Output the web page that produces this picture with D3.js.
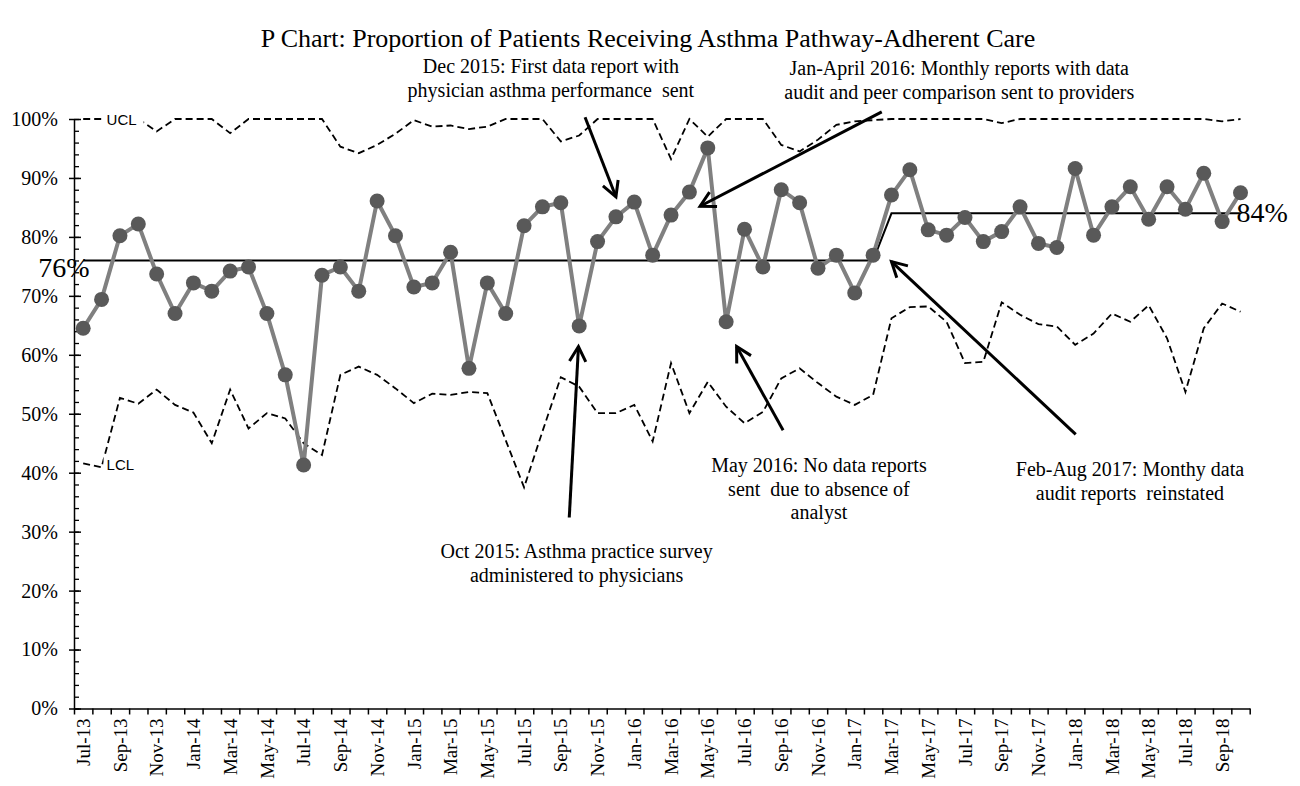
<!DOCTYPE html>
<html>
<head>
<meta charset="utf-8">
<script src="https://cdn.jsdelivr.net/npm/d3@7"></script>
<style>
  body { margin: 0; background: #fff; }
  svg text { white-space: pre; }
</style>
</head>
<body>
<div id="chart"></div>
<script>
// ---- data ----
const months = [
  "Jul-13","Aug-13","Sep-13","Oct-13","Nov-13","Dec-13",
  "Jan-14","Feb-14","Mar-14","Apr-14","May-14","Jun-14","Jul-14","Aug-14","Sep-14","Oct-14","Nov-14","Dec-14",
  "Jan-15","Feb-15","Mar-15","Apr-15","May-15","Jun-15","Jul-15","Aug-15","Sep-15","Oct-15","Nov-15","Dec-15",
  "Jan-16","Feb-16","Mar-16","Apr-16","May-16","Jun-16","Jul-16","Aug-16","Sep-16","Oct-16","Nov-16","Dec-16",
  "Jan-17","Feb-17","Mar-17","Apr-17","May-17","Jun-17","Jul-17","Aug-17","Sep-17","Oct-17","Nov-17","Dec-17",
  "Jan-18","Feb-18","Mar-18","Apr-18","May-18","Jun-18","Jul-18","Aug-18","Sep-18","Oct-18"
];

// proportion adherent (%)
const proportion = [
  64.5, 69.4, 80.2, 82.2, 73.7, 67.0,
  72.2, 70.8, 74.2, 74.9, 67.0, 56.6, 41.3, 73.5, 74.9, 70.8, 86.1, 80.2,
  71.5, 72.2, 77.4, 57.7, 72.2, 67.0, 81.9, 85.1, 85.8, 64.9, 79.2, 83.4,
  85.9, 76.9, 83.7, 87.6, 95.1, 65.6, 81.3, 74.9, 88.0, 85.8, 74.7, 76.9,
  70.5, 76.9, 87.1, 91.4, 81.2, 80.3, 83.3, 79.2, 80.9, 85.1, 78.9, 78.2,
  91.6, 80.3, 85.1, 88.5, 83.0, 88.5, 84.7, 90.8, 82.6, 87.5
];

const ucl = [
  100, 100, 100, 100, 97.9, 100,
  100, 100, 97.6, 100, 100, 100, 100, 100, 95.3, 94.2, 95.6, 97.5,
  99.8, 98.7, 98.9, 98.3, 98.7, 100, 100, 100, 96.2, 97.2, 100, 100,
  100, 100, 93.2, 100, 97.0, 100, 100, 100, 95.6, 94.5, 96.5, 99.0,
  99.6, 99.8, 100, 100, 100, 100, 100, 100, 99.3, 100, 100, 100,
  100, 100, 100, 100, 100, 100, 100, 100, 99.6, 100
];

const lcl = [
  41.6, 40.9, 52.7, 51.7, 54.1, 51.5,
  50.2, 45.0, 54.1, 47.5, 50.1, 49.2, 45.0, 43.0, 56.6, 58.0, 56.6, 54.3,
  51.8, 53.4, 53.2, 53.7, 53.5, 45.5, 37.5, 47.0, 56.2, 54.6, 50.1, 50.1,
  51.5, 45.3, 58.6, 50.1, 55.4, 51.2, 48.4, 50.3, 56.0, 57.7, 55.2, 52.9,
  51.5, 53.2, 66.2, 68.1, 68.2, 65.6, 58.6, 58.8, 68.9, 66.8, 65.2, 64.8,
  61.7, 63.6, 67.0, 65.6, 68.4, 62.8, 53.7, 64.5, 68.7, 67.3
];

// centre line: 76% through Feb-17, 84% from Mar-17
const centerLine = [
  76, 76, 76, 76, 76, 76,
  76, 76, 76, 76, 76, 76, 76, 76, 76, 76, 76, 76,
  76, 76, 76, 76, 76, 76, 76, 76, 76, 76, 76, 76,
  76, 76, 76, 76, 76, 76, 76, 76, 76, 76, 76, 76,
  76, 76, 84, 84, 84, 84, 84, 84, 84, 84, 84, 84,
  84, 84, 84, 84, 84, 84, 84, 84, 84, 84
];

const yTicks = [0, 10, 20, 30, 40, 50, 60, 70, 80, 90, 100];

// annotation arrows: [month index, percent]
const arrows = [
  { from: [27.32, 100.3], to: [29.0, 86.8] },
  { from: [43.47, 101.2], to: [33.58, 85.2] },
  { from: [26.46, 32.4], to: [26.96, 61.4] },
  { from: [38.1, 47.2], to: [35.57, 61.4] },
  { from: [54.03, 46.5], to: [44.0, 75.8] }
];

// annotation texts: centre month index, percent of first baseline
const notes = [
  { at: [25.46, 107.8], lines: ["Dec 2015: First data report with", "physician asthma performance  sent"] },
  { at: [47.69, 107.4], lines: ["Jan-April 2016: Monthly reports with data", "audit and peer comparison sent to providers"] },
  { at: [26.86, 25.5], lines: ["Oct 2015: Asthma practice survey", "administered to physicians"] },
  { at: [40.05, 40.1], lines: ["May 2016: No data reports", "sent  due to absence of", "analyst"] },
  { at: [56.98, 39.4], lines: ["Feb-Aug 2017: Monthy data", "audit reports  reinstated"] }
];

// ---- drawing ----
const width = 1300, height = 786;
const plotLeft = 74, plotRight = 1249.7, plotTop = 119, plotBottom = 708.5;
const serif = "'Liberation Serif', 'Times New Roman', serif";
const sans = "'Liberation Sans', Arial, sans-serif";

const svg = d3.select("#chart").append("svg")
  .attr("width", width)
  .attr("height", height);

const x = d3.scaleBand().domain(months).range([plotLeft, plotRight]);
const cx = m => x(m) + x.bandwidth() / 2;
const xIdx = d3.scaleLinear().domain([0, months.length]).range([plotLeft, plotRight]);
const xAt = i => xIdx(i + 0.5);
const y = d3.scaleLinear().domain([0, 100]).range([plotBottom, plotTop]);

// title
svg.append("text")
  .attr("x", width / 2 - 2)
  .attr("y", 47)
  .attr("text-anchor", "middle")
  .attr("font-family", serif)
  .attr("font-size", 26)
  .text("P Chart: Proportion of Patients Receiving Asthma Pathway-Adherent Care");

// y axis: labels + outer part of major ticks
const yAxis = svg.append("g")
  .attr("transform", `translate(${plotLeft},0)`)
  .call(d3.axisLeft(y).tickValues(yTicks).tickFormat(d => d + "%").tickSize(5).tickSizeOuter(0).tickPadding(11));
yAxis.selectAll("text").attr("font-family", serif).attr("font-size", 20).attr("fill", "#000");
yAxis.selectAll("line").attr("stroke-width", 1.5);
yAxis.select(".domain").attr("stroke-width", 1.5);

// inner ticks (major longer, minor every 2%)
svg.append("g")
  .attr("transform", `translate(${plotLeft},0)`)
  .call(d3.axisRight(y).tickValues(d3.range(0, 101, 2)).tickFormat("").tickSize(5).tickSizeOuter(0))
  .call(g => g.select(".domain").remove())
  .selectAll("line").attr("stroke-width", 1.3);
svg.append("g")
  .attr("transform", `translate(${plotLeft},0)`)
  .call(d3.axisRight(y).tickValues(yTicks).tickFormat("").tickSize(7).tickSizeOuter(0))
  .call(g => g.select(".domain").remove())
  .selectAll("line").attr("stroke-width", 1.5);

// x axis: boundary ticks
const xTickAxis = svg.append("g")
  .attr("transform", `translate(0,${plotBottom})`)
  .call(d3.axisBottom(xIdx).tickValues(d3.range(0, months.length + 1)).tickFormat("").tickSize(6).tickSizeOuter(0));
xTickAxis.selectAll("line").attr("stroke-width", 1.5);
xTickAxis.select(".domain").attr("stroke-width", 1.5);

// x axis: labels every second month
const xLab = svg.append("g")
  .attr("transform", `translate(0,${plotBottom})`)
  .call(d3.axisBottom(x).tickValues(months.filter((m, i) => i % 2 === 0)).tickSize(0));
xLab.select(".domain").remove();
xLab.selectAll("text")
  .attr("font-family", serif)
  .attr("font-size", 19)
  .attr("fill", "#000")
  .attr("transform", "rotate(-90)")
  .attr("x", -10)
  .attr("y", 0)
  .attr("dy", "0.35em")
  .style("text-anchor", "end");

// control limits
const line = d3.line().x((d, i) => cx(months[i])).y(d => y(d));
[ucl, lcl].forEach(series => {
  svg.append("path")
    .datum(series)
    .attr("fill", "none")
    .attr("stroke", "#000")
    .attr("stroke-width", 1.8)
    .attr("stroke-dasharray", "7,4")
    .attr("d", line);
});

// centre line
svg.append("path")
  .datum(centerLine)
  .attr("fill", "none")
  .attr("stroke", "#000")
  .attr("stroke-width", 2)
  .attr("d", line);

// data series
svg.append("path")
  .datum(proportion)
  .attr("fill", "none")
  .attr("stroke", "#808080")
  .attr("stroke-width", 4)
  .attr("d", line);

svg.selectAll("circle.pt")
  .data(proportion)
  .join("circle")
  .attr("class", "pt")
  .attr("cx", (d, i) => cx(months[i]))
  .attr("cy", d => y(d))
  .attr("r", 7.5)
  .attr("fill", "#595959");

// UCL / LCL labels with white boxes
[["UCL", ucl], ["LCL", lcl]].forEach(([name, series]) => {
  const lx = cx(months[1]) + 3, ly = y(series[1]) + (name === "LCL" ? -3 : 1);
  svg.append("rect")
    .attr("x", lx - 1).attr("y", ly - 9)
    .attr("width", name === "UCL" ? 40 : 34).attr("height", 18)
    .attr("fill", "#fff");
  svg.append("text")
    .attr("x", lx + 2).attr("y", ly)
    .attr("dy", "0.35em")
    .attr("font-family", sans)
    .attr("font-size", 15)
    .text(name);
});

// centre line value labels
svg.append("text")
  .attr("x", cx(months[0]) - 45)
  .attr("y", y(centerLine[0]) + 17)
  .attr("font-family", serif)
  .attr("font-size", 28)
  .text(centerLine[0] + "%");
svg.append("text")
  .attr("x", cx(months[months.length - 1]) - 4)
  .attr("y", y(centerLine[centerLine.length - 1]) + 9)
  .attr("font-family", serif)
  .attr("font-size", 28)
  .text(centerLine[centerLine.length - 1] + "%");

// arrows
arrows.forEach(a => {
  const x1 = xAt(a.from[0]), y1 = y(a.from[1]);
  const x2 = xAt(a.to[0]), y2 = y(a.to[1]);
  const ang = Math.atan2(y2 - y1, x2 - x1);
  const len = 17, spread = 0.5;
  svg.append("line")
    .attr("x1", x1).attr("y1", y1).attr("x2", x2).attr("y2", y2)
    .attr("stroke", "#000").attr("stroke-width", 3);
  const p = d3.path();
  p.moveTo(x2 - len * Math.cos(ang - spread), y2 - len * Math.sin(ang - spread));
  p.lineTo(x2, y2);
  p.lineTo(x2 - len * Math.cos(ang + spread), y2 - len * Math.sin(ang + spread));
  svg.append("path")
    .attr("d", p.toString())
    .attr("fill", "none")
    .attr("stroke", "#000")
    .attr("stroke-width", 3);
});

// annotation texts
notes.forEach(n => {
  const t = svg.append("text")
    .attr("text-anchor", "middle")
    .attr("font-family", serif)
    .attr("font-size", 20);
  n.lines.forEach((s, i) => {
    t.append("tspan")
      .attr("x", xAt(n.at[0]))
      .attr("y", y(n.at[1]) + i * 23.5)
      .text(s);
  });
});
</script>
</body>
</html>
